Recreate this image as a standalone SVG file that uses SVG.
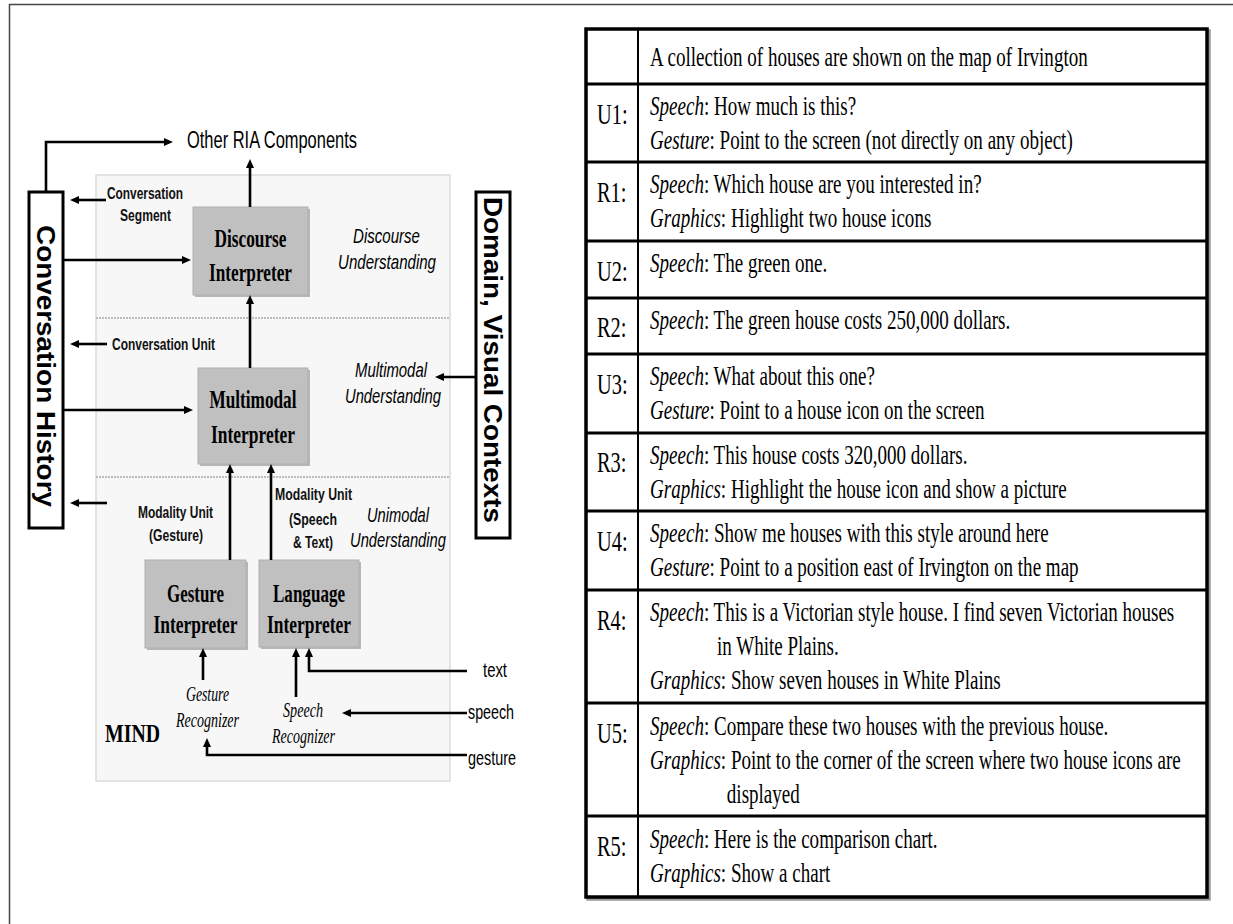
<svg xmlns="http://www.w3.org/2000/svg" width="1233" height="924" viewBox="0 0 1233 924">
<style>
.sans{font-family:"Liberation Sans",Arial,sans-serif;fill:#000}
.lbl{font-family:"Liberation Sans",Arial,sans-serif;font-size:16px;font-weight:bold;fill:#111}
.ital{font-family:"Liberation Sans",Arial,sans-serif;font-size:21px;font-style:italic;fill:#000}
.inp{font-family:"Liberation Sans",Arial,sans-serif;font-size:21px;fill:#000}
.vert{font-family:"Liberation Sans",Arial,sans-serif;font-size:26px;font-weight:bold;fill:#000}
.boxt{font-family:"Liberation Serif","Times New Roman",serif;font-size:26px;font-weight:bold;fill:#000}
.rec{font-family:"Liberation Serif","Times New Roman",serif;font-size:21px;font-style:italic;fill:#000}
.mid{text-anchor:middle}
.gbox{fill:#c0c0c0;stroke:#b0b0b0;stroke-width:1}
.gshadow{fill:#8c8c8c;opacity:0.6}
.vbox{fill:#fff;stroke:#000;stroke-width:3}
.conn{fill:none;stroke:#000;stroke-width:2.6;marker-end:url(#ah)}
.tb{font-family:"Liberation Serif","Times New Roman",serif;font-size:28px;fill:#000}
.tl{font-family:"Liberation Serif","Times New Roman",serif;font-size:30px;fill:#000}
.it{font-style:italic}
.rule{stroke:#000;stroke-width:3}
</style>
<defs>
<marker id="ah" viewBox="0 0 9 8" refX="4" refY="4" markerWidth="9" markerHeight="8" markerUnits="userSpaceOnUse" orient="auto">
<path d="M0,0 L9,4 L0,8 z" fill="#000"/>
</marker>
</defs>

<!-- outer frame -->
<g id="frame">
<line x1="9" y1="4.5" x2="1233" y2="4.5" stroke="#444" stroke-width="1.5"/>
<line x1="9.5" y1="4" x2="9.5" y2="924" stroke="#444" stroke-width="1.5"/>
</g>

<!-- MIND panel -->
<g id="mind-panel">
<rect x="96" y="175" width="354" height="606" fill="#f7f7f7" stroke="#dcdcdc" stroke-width="1.5"/>
<line x1="96" y1="318" x2="450" y2="318" stroke="#bdbdbd" stroke-width="2" stroke-dasharray="2 1"/>
<line x1="96" y1="477" x2="450" y2="477" stroke="#bdbdbd" stroke-width="2" stroke-dasharray="2 1"/>
<text x="105" y="742" class="boxt" font-size="28" textLength="55" lengthAdjust="spacingAndGlyphs">MIND</text>
</g>

<g id="other-ria">
<text x="187" y="148" class="sans" font-size="23" textLength="170" lengthAdjust="spacingAndGlyphs">Other RIA Components</text>
</g>

<g id="conversation-history">
<rect x="29" y="192" width="34" height="336" class="vbox"/>
<text transform="translate(37 366) rotate(90)" class="vert mid" textLength="282" lengthAdjust="spacingAndGlyphs">Conversation History</text>
</g>

<g id="domain-visual-contexts">
<rect x="476" y="192" width="34" height="346" class="vbox"/>
<text transform="translate(484 360) rotate(90)" class="vert mid" textLength="326" lengthAdjust="spacingAndGlyphs">Domain, Visual Contexts</text>
</g>

<g id="discourse-interpreter">
<rect x="195" y="209" width="115" height="88" class="gshadow"/>
<rect x="193" y="207" width="115" height="88" class="gbox"/>
<text x="250.5" y="247" class="boxt mid" textLength="72" lengthAdjust="spacingAndGlyphs">Discourse</text>
<text x="250.5" y="281" class="boxt mid" textLength="83" lengthAdjust="spacingAndGlyphs">Interpreter</text>
</g>

<g id="multimodal-interpreter">
<rect x="200" y="370" width="110" height="96" class="gshadow"/>
<rect x="198" y="368" width="110" height="96" class="gbox"/>
<text x="253" y="408" class="boxt mid" textLength="87" lengthAdjust="spacingAndGlyphs">Multimodal</text>
<text x="253" y="443" class="boxt mid" textLength="84" lengthAdjust="spacingAndGlyphs">Interpreter</text>
</g>

<g id="gesture-interpreter">
<rect x="147" y="562" width="101" height="88" class="gshadow"/>
<rect x="145" y="560" width="101" height="88" class="gbox"/>
<text x="195.5" y="602" class="boxt mid" textLength="57" lengthAdjust="spacingAndGlyphs">Gesture</text>
<text x="195.5" y="633" class="boxt mid" textLength="84" lengthAdjust="spacingAndGlyphs">Interpreter</text>
</g>

<g id="language-interpreter">
<rect x="261" y="562" width="100" height="87" class="gshadow"/>
<rect x="259" y="560" width="100" height="87" class="gbox"/>
<text x="309" y="602" class="boxt mid" textLength="72" lengthAdjust="spacingAndGlyphs">Language</text>
<text x="309" y="633" class="boxt mid" textLength="84" lengthAdjust="spacingAndGlyphs">Interpreter</text>
</g>

<g id="gesture-recognizer">
<text x="207.5" y="701" class="rec mid" textLength="43" lengthAdjust="spacingAndGlyphs">Gesture</text>
<text x="207.5" y="727" class="rec mid" textLength="63" lengthAdjust="spacingAndGlyphs">Recognizer</text>
</g>

<g id="speech-recognizer">
<text x="303" y="717" class="rec mid" textLength="40" lengthAdjust="spacingAndGlyphs">Speech</text>
<text x="303.5" y="743" class="rec mid" textLength="63" lengthAdjust="spacingAndGlyphs">Recognizer</text>
</g>

<g id="layer-labels">
<text x="386.5" y="243" class="ital mid" textLength="67" lengthAdjust="spacingAndGlyphs">Discourse</text>
<text x="387" y="269" class="ital mid" textLength="98" lengthAdjust="spacingAndGlyphs">Understanding</text>
<text x="391" y="377" class="ital mid" textLength="72" lengthAdjust="spacingAndGlyphs">Multimodal</text>
<text x="393" y="403" class="ital mid" textLength="96" lengthAdjust="spacingAndGlyphs">Understanding</text>
<text x="398" y="522" class="ital mid" textLength="62" lengthAdjust="spacingAndGlyphs">Unimodal</text>
<text x="398" y="547" class="ital mid" textLength="96" lengthAdjust="spacingAndGlyphs">Understanding</text>
</g>

<g id="unit-labels">
<text x="145" y="199" class="lbl mid" textLength="76" lengthAdjust="spacingAndGlyphs">Conversation</text>
<text x="145.5" y="221" class="lbl mid" textLength="51" lengthAdjust="spacingAndGlyphs">Segment</text>
<text x="112" y="350" class="lbl" textLength="103" lengthAdjust="spacingAndGlyphs">Conversation Unit</text>
<text x="175.5" y="518" class="lbl mid" textLength="75" lengthAdjust="spacingAndGlyphs">Modality Unit</text>
<text x="176" y="541" class="lbl mid" textLength="54" lengthAdjust="spacingAndGlyphs">(Gesture)</text>
<text x="313.5" y="500" class="lbl mid" textLength="77" lengthAdjust="spacingAndGlyphs">Modality Unit</text>
<text x="313" y="525" class="lbl mid" textLength="48" lengthAdjust="spacingAndGlyphs">(Speech</text>
<text x="313" y="548" class="lbl mid" textLength="40" lengthAdjust="spacingAndGlyphs">&amp; Text)</text>
</g>

<g id="inputs">
<text x="483" y="677" class="inp" textLength="24" lengthAdjust="spacingAndGlyphs">text</text>
<text x="468" y="719" class="inp" textLength="46" lengthAdjust="spacingAndGlyphs">speech</text>
<text x="468" y="765" class="inp" textLength="48" lengthAdjust="spacingAndGlyphs">gesture</text>
</g>

<g id="connectors">
<path class="conn" d="M46,192 V142 H168"/>
<path class="conn" d="M250,207 V164"/>
<path class="conn" d="M63,260 H186"/>
<path class="conn" d="M106,200 H75"/>
<path class="conn" d="M250,368 V300"/>
<path class="conn" d="M107,344 H75"/>
<path class="conn" d="M63,410 H188"/>
<path class="conn" d="M476,377 H440"/>
<path class="conn" d="M107,503 H75"/>
<path class="conn" d="M230,560 V469"/>
<path class="conn" d="M271,560 V469"/>
<path class="conn" d="M203,680 V653"/>
<path class="conn" d="M296,697 V653"/>
<path class="conn" d="M467,671 H309 V653"/>
<path class="conn" d="M467,713 H347"/>
<path class="conn" d="M467,755 H207 V743"/>
</g>

<!-- dialogue table -->
<g id="dialogue-table">
<rect x="588" y="31" width="621" height="868" fill="none" stroke="#9a9a9a" stroke-width="3.5"/>
<rect x="586" y="29" width="621" height="868" fill="#fff" stroke="#000" stroke-width="3.5"/>
<line x1="638" y1="29" x2="638" y2="897" stroke="#000" stroke-width="2"/>
<line class="rule" x1="586" y1="84" x2="1207" y2="84"/>
<line class="rule" x1="586" y1="162" x2="1207" y2="162"/>
<line class="rule" x1="586" y1="241" x2="1207" y2="241"/>
<line class="rule" x1="586" y1="298" x2="1207" y2="298"/>
<line class="rule" x1="586" y1="354" x2="1207" y2="354"/>
<line class="rule" x1="586" y1="433" x2="1207" y2="433"/>
<line class="rule" x1="586" y1="511" x2="1207" y2="511"/>
<line class="rule" x1="586" y1="590" x2="1207" y2="590"/>
<line class="rule" x1="586" y1="703" x2="1207" y2="703"/>
<line class="rule" x1="586" y1="816" x2="1207" y2="816"/>

<g id="turn-labels" transform="translate(597 0) scale(0.68 1)">
<text x="0" y="124" class="tl">U1:</text>
<text x="0" y="202" class="tl">R1:</text>
<text x="0" y="281" class="tl">U2:</text>
<text x="0" y="337" class="tl">R2:</text>
<text x="0" y="394" class="tl">U3:</text>
<text x="0" y="472" class="tl">R3:</text>
<text x="0" y="551" class="tl">U4:</text>
<text x="0" y="630" class="tl">R4:</text>
<text x="0" y="743" class="tl">U5:</text>
<text x="0" y="856" class="tl">R5:</text>
</g>

<g id="turn-texts" transform="translate(650 0) scale(0.68 1)">
<text x="0" y="66" class="tb">A collection of houses are shown on the map of Irvington</text>
<text x="0" y="115" class="tb"><tspan class="it">Speech</tspan>: How much is this?</text>
<text x="0" y="149" class="tb"><tspan class="it">Gesture</tspan>: Point to the screen (not directly on any object)</text>
<text x="0" y="193" class="tb"><tspan class="it">Speech</tspan>: Which house are you interested in?</text>
<text x="0" y="227" class="tb"><tspan class="it">Graphics</tspan>: Highlight two house icons</text>
<text x="0" y="272" class="tb"><tspan class="it">Speech</tspan>: The green one.</text>
<text x="0" y="329" class="tb"><tspan class="it">Speech</tspan>: The green house costs 250,000 dollars.</text>
<text x="0" y="385" class="tb"><tspan class="it">Speech</tspan>: What about this one?</text>
<text x="0" y="419" class="tb"><tspan class="it">Gesture</tspan>: Point to a house icon on the screen</text>
<text x="0" y="464" class="tb"><tspan class="it">Speech</tspan>: This house costs 320,000 dollars.</text>
<text x="0" y="498" class="tb"><tspan class="it">Graphics</tspan>: Highlight the house icon and show a picture</text>
<text x="0" y="542" class="tb"><tspan class="it">Speech</tspan>: Show me houses with this style around here</text>
<text x="0" y="576" class="tb"><tspan class="it">Gesture</tspan>: Point to a position east of Irvington on the map</text>
<text x="0" y="621" class="tb"><tspan class="it">Speech</tspan>: This is a Victorian style house. I find seven Victorian houses</text>
<text x="98.5" y="655" class="tb">in White Plains.</text>
<text x="0" y="689" class="tb"><tspan class="it">Graphics</tspan>: Show seven houses in White Plains</text>
<text x="0" y="735" class="tb"><tspan class="it">Speech</tspan>: Compare these two houses with the previous house.</text>
<text x="0" y="769" class="tb"><tspan class="it">Graphics</tspan>: Point to the corner of the screen where two house icons are</text>
<text x="113" y="803" class="tb">displayed</text>
<text x="0" y="848" class="tb"><tspan class="it">Speech</tspan>: Here is the comparison chart.</text>
<text x="0" y="882" class="tb"><tspan class="it">Graphics</tspan>: Show a chart</text>
</g>
</g>
</svg>
